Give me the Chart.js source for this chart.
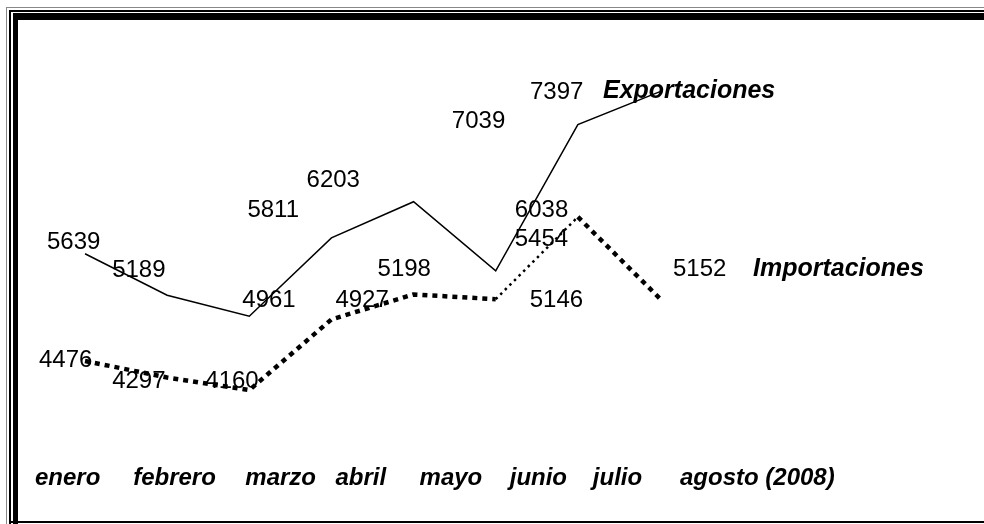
<!DOCTYPE html>
<html lang="es">
<head>
  <meta charset="UTF-8" />
  <title>Exportaciones e Importaciones 2008</title>
  <script src="https://cdn.jsdelivr.net/npm/chart.js"></script>
  <style>
    * { margin: 0; padding: 0; box-sizing: border-box; }
    body {
      width: 984px; height: 524px; background: #fff;
      position: relative; overflow: hidden;
      font-family: 'Liberation Sans', Arial, sans-serif;
    }
    .rule { position: absolute; background: #000; }
    .gray-left  { left: 6px;  top: 7px;  width: 1px; bottom: 0; background: #888; }
    .gray-top   { left: 6px;  top: 7px;  height: 1px; right: 0; background: #888; }
    .thin-left  { left: 9px;  top: 10px; width: 2px; bottom: 0; }
    .thin-top   { left: 9px;  top: 10px; height: 2px; right: 0; }
    .thick-left { left: 13px; top: 13px; width: 5px; bottom: 0; }
    .thick-top  { left: 13px; top: 13px; height: 7px; right: 0; }
    .bottom     { left: 9px;  right: 0;  bottom: 1px; height: 2px; }
    #chart { position: absolute; left: 0; top: 0; }
  </style>
</head>
<body>
  <div class="rule gray-left"></div>
  <div class="rule gray-top"></div>
  <div class="rule thin-left"></div>
  <div class="rule thin-top"></div>
  <div class="rule thick-left"></div>
  <div class="rule thick-top"></div>
  <div class="rule bottom"></div>
  <canvas id="chart" width="984" height="524"></canvas>

  <script>
    // datos
    const months = ['enero', 'febrero', 'marzo', 'abril', 'mayo', 'junio', 'julio', 'agosto (2008)'];
    const exportaciones = [5639, 5189, 4961, 5811, 6203, 5454, 7039, 7397];
    const importaciones = [4476, 4297, 4160, 4927, 5198, 5146, 6038, 5152];

    // where the value labels sit, relative to their point (dx, dy)
    const exportLabelShift = [[-38,-5],[-55,-18],[-7,-9],[-84,-21],[-107,-15],[19,-25],[-126,3],[-130,7]];
    const importLabelShift = [[-46,6],[-55,11],[-44,-2],[4,-12],[-36,-18],[34,8],[-63,0],[13,-23]];
    const nameShift = [[-57, 6], [93, -23]];
    const monthShift = [-50, -34, -4, 4, 6, 14, 15, 20];

    const FONT = '"Liberation Sans", Arial, sans-serif';

    const textLayer = {
      id: 'textLayer',
      afterDatasetsDraw(chart) {
        const ctx = chart.ctx;
        ctx.save();
        ctx.fillStyle = '#000';
        ctx.textAlign = 'left';
        ctx.textBaseline = 'alphabetic';
        chart.data.datasets.forEach((ds, d) => {
          const pts = chart.getDatasetMeta(d).data;
          const shift = d === 0 ? exportLabelShift : importLabelShift;
          ctx.font = '24px ' + FONT;
          pts.forEach((p, i) => {
            ctx.fillText(String(ds.data[i]), p.x + shift[i][0], p.y + shift[i][1]);
          });
          const last = pts[pts.length - 1];
          ctx.font = 'italic bold 25px ' + FONT;
          ctx.fillText(ds.label, last.x + nameShift[d][0], last.y + nameShift[d][1]);
        });
        const x = chart.scales.x;
        ctx.font = 'italic bold 24px ' + FONT;
        months.forEach((m, i) => {
          ctx.fillText(m, x.getPixelForValue(i) + monthShift[i], 485);
        });
        ctx.restore();
      }
    };

    new Chart(document.getElementById('chart'), {
      type: 'line',
      data: {
        labels: months,
        datasets: [
          {
            label: 'Exportaciones',
            data: exportaciones,
            borderColor: '#000',
            borderWidth: 1.5,
            pointRadius: 0,
            tension: 0,
            fill: false
          },
          {
            label: 'Importaciones',
            data: importaciones,
            borderColor: '#000',
            borderWidth: 4.5,
            borderDash: [5, 5],
            borderCapStyle: 'butt',
            pointRadius: 0,
            tension: 0,
            fill: false,
            segment: {
              // junio -> julio drawn with finer dots
              borderWidth: c => c.p0DataIndex === 5 ? 2.5 : undefined,
              borderDash: c => c.p0DataIndex === 5 ? [2.5, 4] : undefined
            }
          }
        ]
      },
      options: {
        responsive: false,
        animation: false,
        layout: { padding: { left: 85, right: 324, top: 36, bottom: 73 } },
        plugins: { legend: { display: false }, tooltip: { enabled: false } },
        scales: {
          x: { display: false, offset: false },
          y: { display: false, min: 3500, max: 8000 }
        }
      },
      plugins: [textLayer]
    });
  </script>
</body>
</html>
